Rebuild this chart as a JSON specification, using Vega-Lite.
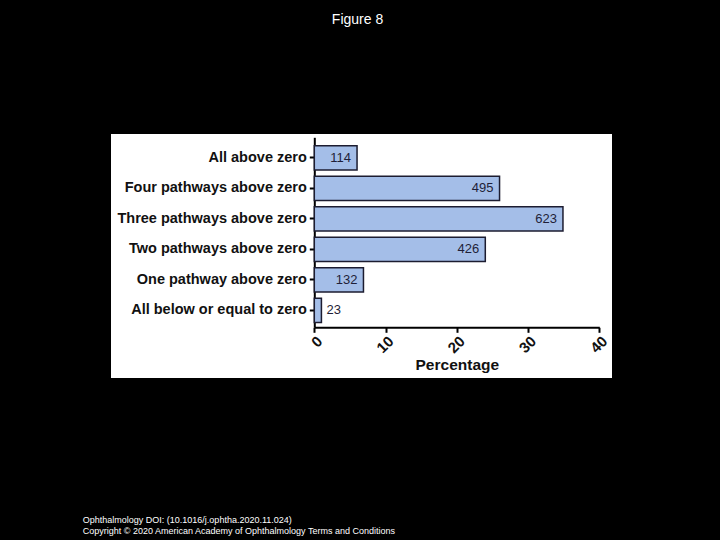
{
  "$schema": "https://vega.github.io/schema/vega-lite/v6.json",
  "width": 501,
  "height": 244,
  "autosize": {"type": "none"},
  "padding": {"left": 111, "top": 134, "right": 108, "bottom": 162},
  "background": "#000000",
  "title": {
    "text": "Figure 8",
    "color": "#ffffff",
    "font": "Liberation Sans",
    "fontSize": 14,
    "fontWeight": "normal",
    "anchor": "middle",
    "frame": "group",
    "offset": 96,
    "baseline": "alphabetic",
    "dx": -4
  },
  "config": {
    "view": {"fill": "#ffffff", "stroke": null},
    "font": "Liberation Sans"
  },
  "data": {
    "values": [
      {"category": "All above zero", "pct": 6.0, "n": 114},
      {"category": "Four pathways above zero", "pct": 26.0, "n": 495},
      {"category": "Three pathways above zero", "pct": 34.9, "n": 623},
      {"category": "Two pathways above zero", "pct": 24.0, "n": 426},
      {"category": "One pathway above zero", "pct": 6.9, "n": 132},
      {"category": "All below or equal to zero", "pct": 1.0, "n": 23}
    ]
  },
  "encoding": {
    "y": {
      "field": "category",
      "type": "nominal",
      "sort": null,
      "scale": {"range": [3.3, 193.3], "paddingInner": 0.2, "paddingOuter": 0.215, "align": 0.64},
      "axis": {
        "offset": -203.3,
        "title": ["Ophthalmology DOI: (10.1016/j.ophtha.2020.11.024)", "Copyright © 2020 American Academy of Ophthalmology Terms and Conditions"],
        "titleAngle": 0,
        "titleX": -232,
        "titleY": 388.5,
        "titleAlign": "left",
        "titleBaseline": "alphabetic",
        "titleFont": "Liberation Sans",
        "titleFontSize": 9,
        "titleFontWeight": "normal",
        "titleColor": "#ffffff",
        "titleLineHeight": 10.5,
        "labelFont": "Liberation Sans",
        "labelFontSize": 14.5,
        "labelFontWeight": "bold",
        "labelColor": "#111111",
        "labelPadding": 3,
        "labelLimit": 300,
        "tickSize": 5,
        "tickWidth": 2,
        "tickColor": "#000000",
        "domainColor": "#000000",
        "domainWidth": 2,
        "grid": false
      }
    }
  },
  "layer": [
    {
      "mark": {"type": "bar", "fill": "#a4bee8", "stroke": "#1c1c30", "strokeWidth": 1.5},
      "encoding": {
        "x": {
          "field": "pct",
          "type": "quantitative",
          "scale": {"domain": [0, 40], "range": [203.3, 488.3], "nice": false},
          "axis": {
            "values": [0, 10, 20, 30, 40],
            "offset": -50.7,
            "title": "Percentage",
            "titleFont": "Liberation Sans",
            "titleFontSize": 15.5,
            "titleFontWeight": "bold",
            "titleColor": "#111111",
            "titleY": 42.5,
            "titleBaseline": "alphabetic",
            "labelAngle": -45,
            "labelFont": "Liberation Sans",
            "labelFontSize": 15,
            "labelFontWeight": "bold",
            "labelColor": "#111111",
            "labelPadding": 1,
            "tickSize": 5,
            "tickWidth": 2,
            "tickColor": "#000000",
            "domainColor": "#000000",
            "domainWidth": 2,
            "grid": false
          }
        }
      }
    },
    {
      "transform": [{"filter": "datum.pct >= 3"}],
      "mark": {"type": "text", "align": "right", "dx": -6, "fontSize": 13, "color": "#1f1f38", "font": "Liberation Sans"},
      "encoding": {
        "x": {"field": "pct", "type": "quantitative"},
        "text": {"field": "n", "type": "quantitative"}
      }
    },
    {
      "transform": [{"filter": "datum.pct < 3"}],
      "mark": {"type": "text", "align": "left", "dx": 5, "fontSize": 13, "color": "#1f1f38", "font": "Liberation Sans"},
      "encoding": {
        "x": {"field": "pct", "type": "quantitative"},
        "text": {"field": "n", "type": "quantitative"}
      }
    }
  ]
}
